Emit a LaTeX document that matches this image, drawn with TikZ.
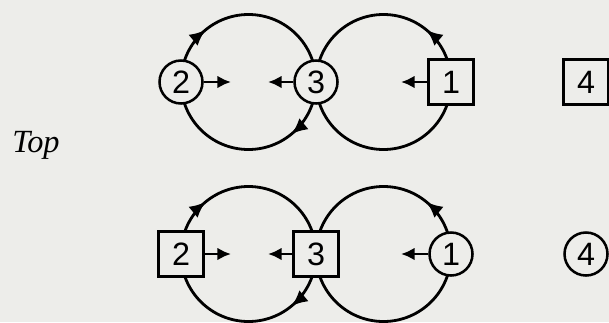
\documentclass[tikz,border=0pt]{standalone}
\usepackage{fontspec}
\setmainfont{Liberation Serif}
\setsansfont{Liberation Sans}
\usetikzlibrary{arrows.meta,positioning,decorations.markings}
\definecolor{paper}{HTML}{EDEDEA}
\pgfdeclarelayer{back}
\pgfsetlayers{back,main}
\tikzset{
  token/.style={draw,line width=1.8pt,fill=paper,inner sep=0pt,font=\sffamily\fontsize{23}{25}\selectfont},
  circ/.style={token,circle,minimum size=1.075cm},
  sq/.style={token,rectangle,minimum size=1.125cm},
  ring/.style={line width=2pt},
  onarrow/.style={postaction=decorate,decoration={markings,mark=at position 0.28 with {\arrow{Latex[length=0.4cm,width=0.36cm]}}}},
  stub/.style={line width=2pt,-{Latex[length=0.34cm,width=0.32cm]}},
  >=Latex
}
\begin{document}
\begin{tikzpicture}[node distance=3.375cm,on grid]
  \useasboundingbox (0,0) rectangle (15.225,-8.05);
  % top row
  \node[circ] (t2) at (4.525,-2.05) {2};
  \node[circ,right=of t2] (t3) {3};
  \node[sq,right=of t3] (t1) {1};
  \node[sq,right=of t1] (t4) {4};
  % bottom row
  \node[sq,below=4.3cm of t2] (b2) {2};
  \node[sq,right=of b2] (b3) {3};
  \node[circ,right=of b3] (b1) {1};
  \node[circ,right=of b1] (b4) {4};
  \node[anchor=base west,inner sep=0pt,font=\itshape\fontsize{23}{25}\selectfont] (top) at (0.3,-3.8) {Top};
  % short arrows
  \coordinate[right=1.25cm of t2] (t2s); \coordinate[left=1.2cm of t3] (t3s);
  \coordinate[left=1.25cm of t1] (t1s);
  \coordinate[right=1.25cm of b2] (b2s); \coordinate[left=1.2cm of b3] (b3s);
  \coordinate[left=1.25cm of b1] (b1s);
  \draw[stub] (t2)--(t2s); \draw[stub] (t3)--(t3s); \draw[stub] (t1)--(t1s);
  \draw[stub] (b2)--(b2s); \draw[stub] (b3)--(b3s); \draw[stub] (b1)--(b1s);
  % loops behind the nodes
  \begin{pgfonlayer}{back}
    \fill[paper] (0,0) rectangle (15.225,-8.05);
    \draw[ring,onarrow] (t2.center) arc[start angle=180,end angle=0,radius=1.6875cm];
    \draw[ring,onarrow] (t3.center) arc[start angle=0,end angle=-180,radius=1.6875cm];
    \draw[ring,onarrow] (t1.center) arc[start angle=0,end angle=180,radius=1.6875cm];
    \draw[ring] (t3.center) arc[start angle=180,end angle=360,radius=1.6875cm];
    \draw[ring,onarrow] (b2.center) arc[start angle=180,end angle=0,radius=1.6875cm];
    \draw[ring,onarrow] (b3.center) arc[start angle=0,end angle=-180,radius=1.6875cm];
    \draw[ring,onarrow] (b1.center) arc[start angle=0,end angle=180,radius=1.6875cm];
    \draw[ring] (b3.center) arc[start angle=180,end angle=360,radius=1.6875cm];
  \end{pgfonlayer}
\end{tikzpicture}
\end{document}
